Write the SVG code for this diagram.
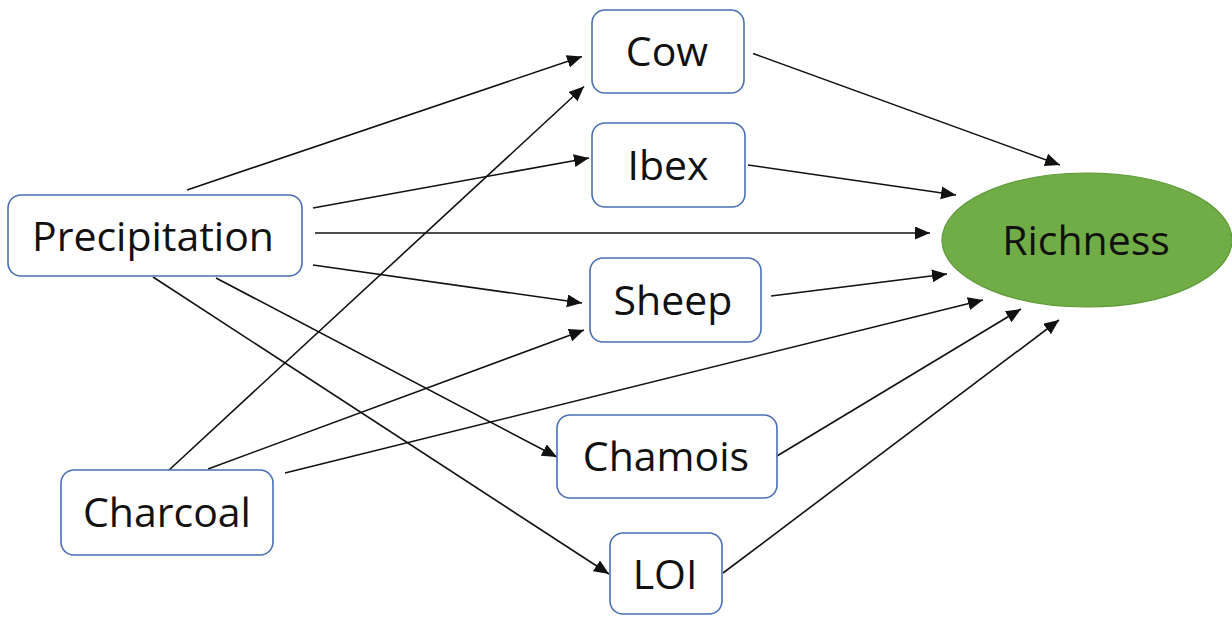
<svg xmlns="http://www.w3.org/2000/svg" width="1232" height="617" viewBox="0 0 1232 617">
<style>
.box{fill:#ffffff;stroke:#4a6fb5;stroke-width:1.6}
.lbl{font-family:"Open Sans","Liberation Sans",sans-serif;font-size:41px;fill:#111111;text-anchor:middle}
.edge{stroke:#111111;stroke-width:1.6;fill:none;marker-end:url(#arr)}
</style>
<defs>
<marker id="arr" markerUnits="userSpaceOnUse" markerWidth="16" markerHeight="14" refX="15" refY="6.5" orient="auto">
<path d="M0,0 L15,6.5 L0,13 z" fill="#111111"/>
</marker>
</defs>
<rect width="1232" height="617" fill="#ffffff"/>
<g id="connectors">
<line class="edge" x1="187" y1="190" x2="582" y2="56.5"/>
<line class="edge" x1="313" y1="208" x2="589" y2="158"/>
<line class="edge" x1="315" y1="233" x2="930" y2="233"/>
<line class="edge" x1="313" y1="265" x2="582" y2="303"/>
<line class="edge" x1="216" y1="278" x2="557" y2="457"/>
<line class="edge" x1="153" y1="277" x2="609" y2="574"/>
<line class="edge" x1="168" y1="471" x2="584" y2="86.5"/>
<line class="edge" x1="208" y1="469" x2="584" y2="330"/>
<line class="edge" x1="285" y1="473" x2="983" y2="300"/>
<line class="edge" x1="753" y1="53.5" x2="1060" y2="165"/>
<line class="edge" x1="748" y1="165" x2="956" y2="195"/>
<line class="edge" x1="771" y1="296" x2="947" y2="274"/>
<line class="edge" x1="777" y1="456" x2="1021" y2="309"/>
<line class="edge" x1="723" y1="573" x2="1059" y2="320"/>
</g>
<g id="node-precipitation">
<rect class="box" x="8" y="195" width="294" height="81" rx="13"/>
<text class="lbl" x="153" y="251">Precipitation</text>
</g>
<g id="node-charcoal">
<rect class="box" x="61" y="470" width="212" height="85" rx="13"/>
<text class="lbl" x="167" y="527">Charcoal</text>
</g>
<g id="node-cow">
<rect class="box" x="592" y="10" width="152" height="83" rx="13"/>
<text class="lbl" x="667" y="66">Cow</text>
</g>
<g id="node-ibex">
<rect class="box" x="592" y="123" width="153" height="84" rx="13"/>
<text class="lbl" x="668" y="180">Ibex</text>
</g>
<g id="node-sheep">
<rect class="box" x="590" y="258" width="171" height="84" rx="13"/>
<text class="lbl" x="673" y="315">Sheep</text>
</g>
<g id="node-chamois">
<rect class="box" x="557" y="415" width="220" height="83" rx="13"/>
<text class="lbl" x="666" y="471">Chamois</text>
</g>
<g id="node-loi">
<rect class="box" x="610" y="533" width="112" height="81" rx="13"/>
<text class="lbl" x="665" y="589">LOI</text>
</g>
<g id="node-richness">
<ellipse cx="1087" cy="240" rx="145" ry="67" fill="#70ad47" stroke="#5e9a3a" stroke-width="1.2"/>
<text class="lbl" x="1086" y="255">Richness</text>
</g>
</svg>
